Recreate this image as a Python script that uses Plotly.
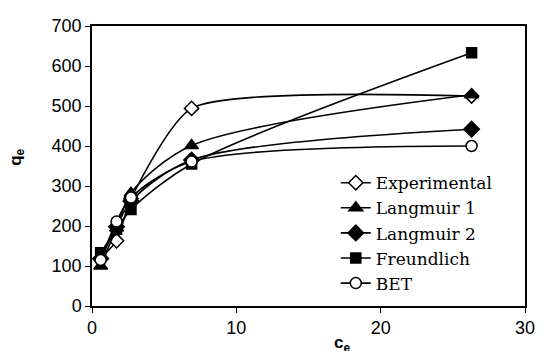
import plotly.graph_objects as go

ce = [0.6, 1.7, 2.7, 6.9, 26.3]
experimental = [120, 163, 268, 494, 525]
langmuir1 = [100, 195, 282, 401, 528]
langmuir2 = [118, 198, 262, 365, 442]
freundlich = [133, 192, 241, 355, 633]
bet = [115, 211, 271, 361, 400]

series = [
    ("Experimental", experimental, "diamond-open", 11, 0.6),
    ("Langmuir 1", langmuir1, "triangle-up", 12, 0.85),
    ("Langmuir 2", langmuir2, "diamond", 12, 0.85),
    ("Freundlich", freundlich, "square", 10, 0.85),
    ("BET", bet, "circle-open", 11, 0.85),
]

fig = go.Figure()
for name, ys, sym, sz, sm in series:
    open_ = sym.endswith("-open")
    fig.add_trace(go.Scatter(
        x=ce, y=ys, name=name, mode="lines+markers",
        line=dict(color="black", width=1.6, shape="spline", smoothing=sm),
        marker=dict(symbol=sym.replace("-open", ""), size=sz,
                    color="white" if open_ else "black",
                    line=dict(color="black", width=1.5)),
    ))

fig.update_layout(
    width=547, height=351,
    margin=dict(l=92, r=13, t=26, b=45),
    paper_bgcolor="white", plot_bgcolor="white",
    showlegend=True,
    legend=dict(x=0.563, y=0.503, xanchor="left", yanchor="top",
                font=dict(family="DejaVu Serif", size=17, color="black"),
                bgcolor="rgba(0,0,0,0)", borderwidth=0, tracegroupgap=0),
    font=dict(family="Liberation Sans", size=18, color="black"),
    xaxis=dict(range=[0, 30], tickvals=[0, 10, 20, 30], showgrid=False, zeroline=False,
               showline=True, linecolor="black", linewidth=1.5, mirror=True,
               ticks="outside", ticklen=5, tickcolor="black", tickwidth=1,
               tickfont=dict(family="Liberation Sans", size=18)),
    yaxis=dict(range=[0, 700], tickvals=[0, 100, 200, 300, 400, 500, 600, 700],
               showgrid=False, zeroline=False,
               showline=True, linecolor="black", linewidth=1.5, mirror=True,
               ticks="outside", ticklen=5, tickcolor="black", tickwidth=1,
               tickfont=dict(family="Liberation Sans", size=18)),
    annotations=[
        dict(text="<b>c<sub>e</sub></b>", xref="paper", yref="paper",
             x=0.577, y=-0.09, xanchor="center", yanchor="top", showarrow=False,
             font=dict(family="Liberation Sans", size=17, color="black")),
        dict(text="<b>q<sub>e</sub></b>", xref="paper", yref="paper",
             x=-0.175, y=0.53, xanchor="center", yanchor="middle", showarrow=False,
             textangle=-90,
             font=dict(family="Liberation Sans", size=17, color="black")),
    ],
)

fig.write_html("out.html")
